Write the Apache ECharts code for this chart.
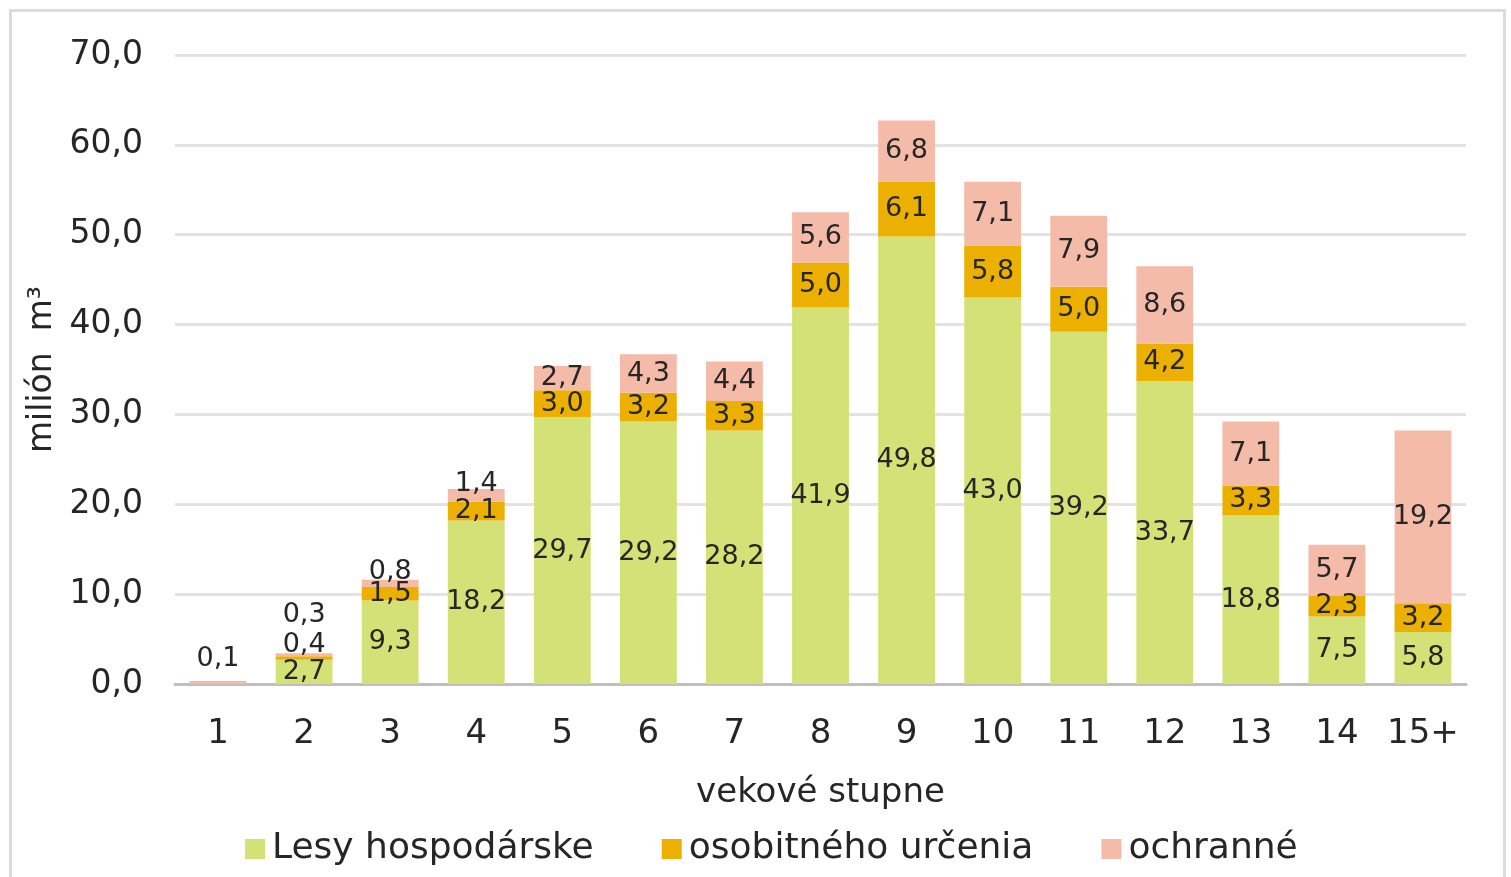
<!DOCTYPE html>
<html>
<head>
<meta charset="utf-8">
<script src="https://cdn.jsdelivr.net/npm/echarts@6/dist/echarts.min.js"></script>
<style>
  html, body { margin: 0; padding: 0; background: #fff; }
  #frame { position: absolute; left: 9px; top: 9px; width: 1497px; height: 890px; border: 3px solid #dcdcdc; box-sizing: border-box; }
  #chart { position: absolute; left: 0; top: 0; width: 1511px; height: 877px; }
</style>
</head>
<body>
<div id="frame"></div>
<div id="chart"></div>
<script>
// vekové stupne
const categories = ['1', '2', '3', '4', '5', '6', '7', '8', '9', '10', '11', '12', '13', '14', '15+'];
// milión m3
const lesyHospodarske = [0, 2.7, 9.3, 18.2, 29.7, 29.2, 28.2, 41.9, 49.8, 43.0, 39.2, 33.7, 18.8, 7.5, 5.8];
const osobitnehoUrcenia = [0, 0.4, 1.5, 2.1, 3.0, 3.2, 3.3, 5.0, 6.1, 5.8, 5.0, 4.2, 3.3, 2.3, 3.2];
const ochranne = [0.1, 0.3, 0.8, 1.4, 2.7, 4.3, 4.4, 5.6, 6.8, 7.1, 7.9, 8.6, 7.1, 5.7, 19.2];

// labels of thin segments were moved up by hand in the original
const nudgeOsob = { 1: -13 };
const nudgeOchr = { 0: -24, 1: -40, 2: -11, 3: -11 };

const font = 'DejaVu Sans';
const fmt = v => v.toFixed(1).replace('.', ',');

function items(values, nudge) {
  return values.map((v, i) => {
    const it = { value: v };
    if (v === 0) it.label = { show: false };
    else if (nudge && nudge[i] !== undefined) it.label = { offset: [0, nudge[i]] };
    return it;
  });
}

function bar(name, color, values, nudge, minH) {
  return {
    name: name,
    type: 'bar',
    stack: 'total',
    barWidth: '66%',
    barMinHeight: minH || 0,
    itemStyle: { color: color },
    label: {
      show: true,
      position: 'inside',
      color: '#262626',
      fontFamily: font,
      fontSize: 27,
      formatter: p => fmt(p.value)
    },
    data: items(values, nudge)
  };
}

const chart = echarts.init(document.getElementById('chart'));
chart.setOption({
  animation: false,
  textStyle: { fontFamily: font },
  grid: { left: 175, right: 45, top: 55, bottom: 193 },
  legend: {
    bottom: 5,
    left: 240,
    itemWidth: 20,
    itemHeight: 20,
    itemGap: 68,
    icon: 'rect',
    textStyle: { fontFamily: font, fontSize: 36, color: '#262626', padding: [0, 0, 0, 2] },
    data: ['Lesy hospodárske', 'osobitného určenia', 'ochranné']
  },
  xAxis: {
    type: 'category',
    data: categories,
    name: 'vekové stupne',
    nameLocation: 'middle',
    nameGap: 92,
    nameTextStyle: { fontFamily: font, fontSize: 34, color: '#262626' },
    axisLine: { lineStyle: { color: '#bfbfbf', width: 3 } },
    axisTick: { show: false },
    axisLabel: { interval: 0, margin: 33, fontFamily: font, fontSize: 34, color: '#262626' }
  },
  yAxis: {
    type: 'value',
    min: 0,
    max: 70,
    interval: 10,
    name: 'milión  m³',
    nameLocation: 'middle',
    nameRotate: 90,
    nameGap: 116,
    nameTextStyle: { fontFamily: font, fontSize: 33, color: '#262626' },
    axisLine: { show: false },
    axisTick: { show: false },
    splitLine: { lineStyle: { color: '#e3e3e3', width: 3 } },
    axisLabel: { margin: 32, fontFamily: font, fontSize: 33, color: '#262626', formatter: v => fmt(v) }
  },
  series: [
    bar('Lesy hospodárske', '#d4e177', lesyHospodarske),
    bar('osobitného určenia', '#ebb000', osobitnehoUrcenia, nudgeOsob),
    bar('ochranné', '#f4bba9', ochranne, nudgeOchr, 3)
  ]
});
</script>
</body>
</html>
